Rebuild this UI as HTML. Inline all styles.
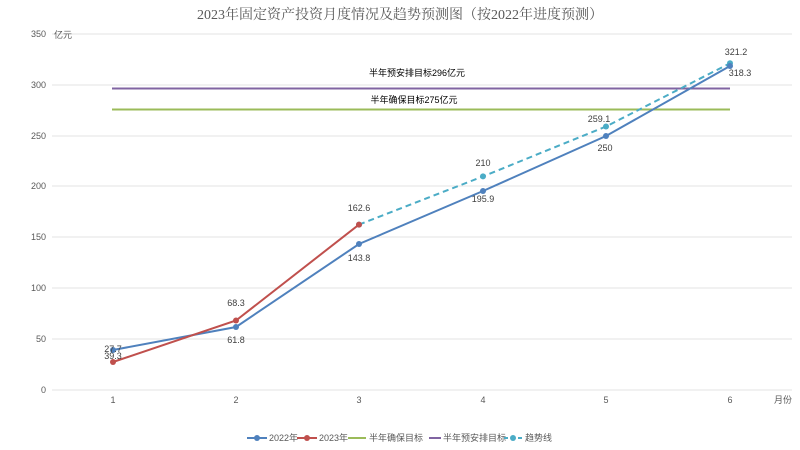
<!DOCTYPE html>
<html><head><meta charset="utf-8"><style>body{margin:0;background:#fff}svg{display:block}text{font-family:"Liberation Sans","Noto Sans CJK SC",sans-serif}</style></head><body>
<svg width="800" height="450" viewBox="0 0 800 450">
<text x="400" y="19" text-anchor="middle" font-size="14" fill="#595959" style="font-family:'Liberation Serif','Noto Serif CJK SC',serif">2023年固定资产投资月度情况及趋势预测图（按2022年进度预测）</text>
<g stroke="#e3e3e3" stroke-width="1">
<line x1="52" y1="34" x2="792" y2="34"/><line x1="52" y1="85" x2="792" y2="85"/><line x1="52" y1="136" x2="792" y2="136"/><line x1="52" y1="186" x2="792" y2="186"/><line x1="52" y1="237" x2="792" y2="237"/><line x1="52" y1="288" x2="792" y2="288"/><line x1="52" y1="339" x2="792" y2="339"/><line x1="52" y1="390" x2="792" y2="390"/>
</g>
<g font-size="9" fill="#595959" text-anchor="end">
<text x="46" y="37">350</text><text x="46" y="88">300</text><text x="46" y="139">250</text><text x="46" y="189">200</text><text x="46" y="240">150</text><text x="46" y="291">100</text><text x="46" y="342">50</text><text x="46" y="393">0</text>
</g>
<text x="54" y="38" font-size="9" fill="#595959">亿元</text>
<g font-size="9" fill="#595959" text-anchor="middle">
<text x="113" y="403">1</text><text x="236" y="403">2</text><text x="359" y="403">3</text><text x="483" y="403">4</text><text x="606" y="403">5</text><text x="730" y="403">6</text>
</g>
<text x="774" y="403" font-size="9" fill="#595959">月份</text>
<line x1="112" y1="88.5" x2="730" y2="88.5" stroke="#8064a2" stroke-width="2"/>
<line x1="112" y1="109.5" x2="730" y2="109.5" stroke="#9bbb59" stroke-width="2"/>
<text x="417" y="76" font-size="9" fill="#000" text-anchor="middle">半年预安排目标296亿元</text>
<text x="414" y="103" font-size="9" fill="#000" text-anchor="middle">半年确保目标275亿元</text>
<polyline points="359,224.6 483,176.4 606,126.5 730,63.3" fill="none" stroke="#4bacc6" stroke-width="2" stroke-dasharray="6,4"/>
<g fill="#4bacc6"><circle cx="359" cy="224.6" r="3"/><circle cx="483" cy="176.4" r="3"/><circle cx="606" cy="126.5" r="3"/><circle cx="730" cy="63.3" r="3"/></g>
<polyline points="113,350 236,327 359,244 483,191 606,136 730,66" fill="none" stroke="#4f81bd" stroke-width="2"/>
<g fill="#4f81bd"><circle cx="113" cy="350" r="3"/><circle cx="236" cy="327" r="3"/><circle cx="359" cy="244" r="3"/><circle cx="483" cy="191" r="3"/><circle cx="606" cy="136" r="3"/><circle cx="730" cy="66" r="3"/></g>
<polyline points="113,362 236,320.5 359,224.6" fill="none" stroke="#c0504d" stroke-width="2"/>
<g fill="#c0504d"><circle cx="113" cy="362" r="3"/><circle cx="236" cy="320.5" r="3"/><circle cx="359" cy="224.6" r="3"/></g>
<g font-size="9" fill="#404040" text-anchor="middle">
<text x="113" y="352">27.7</text><text x="113" y="359">39.3</text>
<text x="236" y="306">68.3</text><text x="236" y="343">61.8</text>
<text x="359" y="211">162.6</text><text x="359" y="261">143.8</text>
<text x="483" y="166">210</text><text x="483" y="202">195.9</text>
<text x="599" y="122">259.1</text><text x="605" y="151">250</text>
<text x="736" y="55">321.2</text><text x="740" y="76">318.3</text>
</g>
<g font-size="9" fill="#595959">
<line x1="247" y1="438" x2="267" y2="438" stroke="#4f81bd" stroke-width="2"/><circle cx="257" cy="438" r="3" fill="#4f81bd"/><text x="269" y="441">2022年</text>
<line x1="297" y1="438" x2="317" y2="438" stroke="#c0504d" stroke-width="2"/><circle cx="307" cy="438" r="3" fill="#c0504d"/><text x="319" y="441">2023年</text>
<line x1="348" y1="438" x2="366" y2="438" stroke="#9bbb59" stroke-width="2"/><text x="369" y="441">半年确保目标</text>
<line x1="429" y1="438" x2="441" y2="438" stroke="#8064a2" stroke-width="2"/><text x="443" y="441">半年预安排目标</text>
<line x1="504" y1="438" x2="522" y2="438" stroke="#4bacc6" stroke-width="2" stroke-dasharray="4,3"/><circle cx="513" cy="438" r="3" fill="#4bacc6"/><text x="525" y="441">趋势线</text>
</g>
</svg>
</body></html>
